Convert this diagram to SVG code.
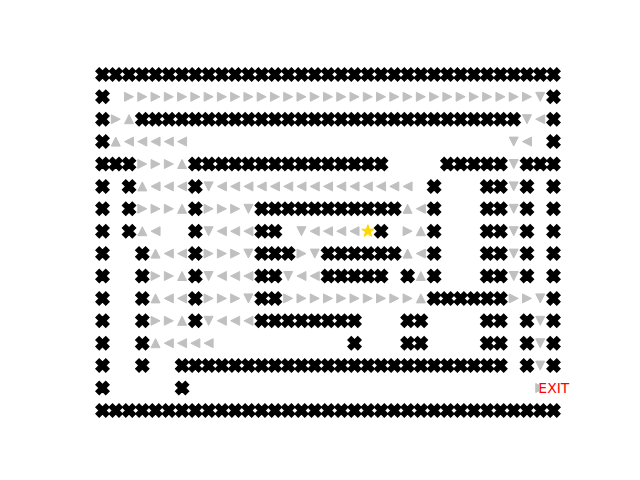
<svg xmlns="http://www.w3.org/2000/svg" width="640" height="480" viewBox="0 0 640 480">
<style>
.wall{fill:#000;stroke:#000;stroke-width:1.4}
.tri{fill:#c0c0c0;stroke:#c0c0c0;stroke-width:1}
.star{fill:#ffd700;stroke:#ffd700;stroke-width:1}
.exit{font-family:"DejaVu Sans",sans-serif;font-size:13.9px;fill:#ff0000}
</style>
<defs>
<path id="w" class="wall" d="M-3.25,-6.5L0,-3.25L3.25,-6.5L6.5,-3.25L3.25,0L6.5,3.25L3.25,6.5L0,3.25L-3.25,6.5L-6.5,3.25L-3.25,0L-6.5,-3.25Z"/>
<path id="r" class="tri" d="M4.5,0L-4.5,-4.5L-4.5,4.5Z"/>
<path id="l" class="tri" d="M-4.5,0L4.5,-4.5L4.5,4.5Z"/>
<path id="u" class="tri" d="M0,-4.5L-4.5,4.5L4.5,4.5Z"/>
<path id="d" class="tri" d="M0,4.5L-4.5,-4.5L4.5,-4.5Z"/>
<g id="full">
<use href="#w" x="102.5"/><use href="#w" x="115.76"/><use href="#w" x="129.03"/><use href="#w" x="142.29"/><use href="#w" x="155.56"/><use href="#w" x="168.82"/><use href="#w" x="182.09"/><use href="#w" x="195.35"/><use href="#w" x="208.62"/><use href="#w" x="221.88"/><use href="#w" x="235.15"/><use href="#w" x="248.41"/><use href="#w" x="261.68"/><use href="#w" x="274.94"/><use href="#w" x="288.21"/><use href="#w" x="301.47"/><use href="#w" x="314.74"/><use href="#w" x="328"/><use href="#w" x="341.26"/><use href="#w" x="354.53"/><use href="#w" x="367.79"/><use href="#w" x="381.06"/><use href="#w" x="394.32"/><use href="#w" x="407.59"/><use href="#w" x="420.85"/><use href="#w" x="434.12"/><use href="#w" x="447.38"/><use href="#w" x="460.65"/><use href="#w" x="473.91"/><use href="#w" x="487.18"/><use href="#w" x="500.44"/><use href="#w" x="513.71"/><use href="#w" x="526.97"/><use href="#w" x="540.24"/><use href="#w" x="553.5"/>
</g>
<g id="rside">
<use href="#w" x="434.12"/><use href="#w" x="487.18"/><use href="#w" x="500.44"/><use href="#d" x="513.71"/><use href="#w" x="526.97"/><use href="#w" x="553.5"/>
</g>
</defs>
<rect width="640" height="480" fill="#fff"/>
<g id="maze">
<use href="#full" y="74.4"/>
<use href="#full" y="410.4"/>
<g id="row1" transform="translate(0,96.8)">
<use href="#w" x="102.5"/>
<use href="#r" x="129.03"/><use href="#r" x="142.29"/><use href="#r" x="155.56"/><use href="#r" x="168.82"/><use href="#r" x="182.09"/><use href="#r" x="195.35"/><use href="#r" x="208.62"/><use href="#r" x="221.88"/><use href="#r" x="235.15"/><use href="#r" x="248.41"/><use href="#r" x="261.68"/><use href="#r" x="274.94"/><use href="#r" x="288.21"/><use href="#r" x="301.47"/><use href="#r" x="314.74"/><use href="#r" x="328"/><use href="#r" x="341.26"/><use href="#r" x="354.53"/><use href="#r" x="367.79"/><use href="#r" x="381.06"/><use href="#r" x="394.32"/><use href="#r" x="407.59"/><use href="#r" x="420.85"/><use href="#r" x="434.12"/><use href="#r" x="447.38"/><use href="#r" x="460.65"/><use href="#r" x="473.91"/><use href="#r" x="487.18"/><use href="#r" x="500.44"/><use href="#r" x="513.71"/><use href="#r" x="526.97"/>
<use href="#d" x="540.24"/><use href="#w" x="553.5"/>
</g>
<g id="row2" transform="translate(0,119.2)">
<use href="#w" x="102.5"/><use href="#r" x="115.76"/><use href="#u" x="129.03"/>
<use href="#w" x="142.29"/><use href="#w" x="155.56"/><use href="#w" x="168.82"/><use href="#w" x="182.09"/><use href="#w" x="195.35"/><use href="#w" x="208.62"/><use href="#w" x="221.88"/><use href="#w" x="235.15"/><use href="#w" x="248.41"/><use href="#w" x="261.68"/><use href="#w" x="274.94"/><use href="#w" x="288.21"/><use href="#w" x="301.47"/><use href="#w" x="314.74"/><use href="#w" x="328"/><use href="#w" x="341.26"/><use href="#w" x="354.53"/><use href="#w" x="367.79"/><use href="#w" x="381.06"/><use href="#w" x="394.32"/><use href="#w" x="407.59"/><use href="#w" x="420.85"/><use href="#w" x="434.12"/><use href="#w" x="447.38"/><use href="#w" x="460.65"/><use href="#w" x="473.91"/><use href="#w" x="487.18"/><use href="#w" x="500.44"/><use href="#w" x="513.71"/>
<use href="#d" x="526.97"/><use href="#l" x="540.24"/><use href="#w" x="553.5"/>
</g>
<g id="row3" transform="translate(0,141.6)">
<use href="#w" x="102.5"/><use href="#u" x="115.76"/>
<use href="#l" x="129.03"/><use href="#l" x="142.29"/><use href="#l" x="155.56"/><use href="#l" x="168.82"/><use href="#l" x="182.09"/>
<use href="#d" x="513.71"/><use href="#l" x="526.97"/><use href="#w" x="553.5"/>
</g>
<g id="row4" transform="translate(0,164)">
<use href="#w" x="102.5"/><use href="#w" x="115.76"/><use href="#w" x="129.03"/>
<use href="#r" x="142.29"/><use href="#r" x="155.56"/><use href="#r" x="168.82"/><use href="#u" x="182.09"/>
<use href="#w" x="195.35"/><use href="#w" x="208.62"/><use href="#w" x="221.88"/><use href="#w" x="235.15"/><use href="#w" x="248.41"/><use href="#w" x="261.68"/><use href="#w" x="274.94"/><use href="#w" x="288.21"/><use href="#w" x="301.47"/><use href="#w" x="314.74"/><use href="#w" x="328"/><use href="#w" x="341.26"/><use href="#w" x="354.53"/><use href="#w" x="367.79"/><use href="#w" x="381.06"/>
<use href="#w" x="447.38"/><use href="#w" x="460.65"/><use href="#w" x="473.91"/><use href="#w" x="487.18"/><use href="#w" x="500.44"/>
<use href="#d" x="513.71"/><use href="#w" x="526.97"/><use href="#w" x="540.24"/><use href="#w" x="553.5"/>
</g>
<g id="row5" transform="translate(0,186.4)">
<use href="#w" x="102.5"/><use href="#w" x="129.03"/><use href="#u" x="142.29"/>
<use href="#l" x="155.56"/><use href="#l" x="168.82"/><use href="#l" x="182.09"/>
<use href="#w" x="195.35"/><use href="#d" x="208.62"/>
<use href="#l" x="221.88"/><use href="#l" x="235.15"/><use href="#l" x="248.41"/><use href="#l" x="261.68"/><use href="#l" x="274.94"/><use href="#l" x="288.21"/><use href="#l" x="301.47"/><use href="#l" x="314.74"/><use href="#l" x="328"/><use href="#l" x="341.26"/><use href="#l" x="354.53"/><use href="#l" x="367.79"/><use href="#l" x="381.06"/><use href="#l" x="394.32"/><use href="#l" x="407.59"/>
<use href="#rside"/>
</g>
<g id="row6" transform="translate(0,208.8)">
<use href="#w" x="102.5"/><use href="#w" x="129.03"/>
<use href="#r" x="142.29"/><use href="#r" x="155.56"/><use href="#r" x="168.82"/><use href="#u" x="182.09"/>
<use href="#w" x="195.35"/>
<use href="#r" x="208.62"/><use href="#r" x="221.88"/><use href="#r" x="235.15"/><use href="#d" x="248.41"/>
<use href="#w" x="261.68"/><use href="#w" x="274.94"/><use href="#w" x="288.21"/><use href="#w" x="301.47"/><use href="#w" x="314.74"/><use href="#w" x="328"/><use href="#w" x="341.26"/><use href="#w" x="354.53"/><use href="#w" x="367.79"/><use href="#w" x="381.06"/><use href="#w" x="394.32"/>
<use href="#u" x="407.59"/><use href="#l" x="420.85"/>
<use href="#rside"/>
</g>
<g id="row7" transform="translate(0,231.2)">
<use href="#w" x="102.5"/><use href="#w" x="129.03"/><use href="#u" x="142.29"/><use href="#l" x="155.56"/>
<use href="#w" x="195.35"/><use href="#d" x="208.62"/>
<use href="#l" x="221.88"/><use href="#l" x="235.15"/><use href="#l" x="248.41"/>
<use href="#w" x="261.68"/><use href="#w" x="274.94"/>
<use href="#d" x="301.47"/><use href="#l" x="314.74"/><use href="#l" x="328"/><use href="#l" x="341.26"/><use href="#l" x="354.53"/>
<use href="#w" x="381.06"/>
<use href="#r" x="407.59"/><use href="#u" x="420.85"/>
<use href="#rside"/>
</g>
<g id="row8" transform="translate(0,253.6)">
<use href="#w" x="102.5"/><use href="#w" x="142.29"/><use href="#u" x="155.56"/><use href="#l" x="168.82"/><use href="#l" x="182.09"/>
<use href="#w" x="195.35"/>
<use href="#r" x="208.62"/><use href="#r" x="221.88"/><use href="#r" x="235.15"/><use href="#d" x="248.41"/>
<use href="#w" x="261.68"/><use href="#w" x="274.94"/><use href="#w" x="288.21"/>
<use href="#r" x="301.47"/><use href="#d" x="314.74"/>
<use href="#w" x="328"/><use href="#w" x="341.26"/><use href="#w" x="354.53"/><use href="#w" x="367.79"/><use href="#w" x="381.06"/><use href="#w" x="394.32"/>
<use href="#u" x="407.59"/><use href="#l" x="420.85"/>
<use href="#rside"/>
</g>
<g id="row9" transform="translate(0,276)">
<use href="#w" x="102.5"/><use href="#w" x="142.29"/>
<use href="#r" x="155.56"/><use href="#r" x="168.82"/><use href="#u" x="182.09"/>
<use href="#w" x="195.35"/><use href="#d" x="208.62"/>
<use href="#l" x="221.88"/><use href="#l" x="235.15"/><use href="#l" x="248.41"/>
<use href="#w" x="261.68"/><use href="#w" x="274.94"/>
<use href="#d" x="288.21"/><use href="#l" x="301.47"/><use href="#l" x="314.74"/>
<use href="#w" x="328"/><use href="#w" x="341.26"/><use href="#w" x="354.53"/><use href="#w" x="367.79"/><use href="#w" x="381.06"/>
<use href="#w" x="407.59"/><use href="#u" x="420.85"/>
<use href="#rside"/>
</g>
<g id="row10" transform="translate(0,298.4)">
<use href="#w" x="102.5"/><use href="#w" x="142.29"/><use href="#u" x="155.56"/><use href="#l" x="168.82"/><use href="#l" x="182.09"/>
<use href="#w" x="195.35"/>
<use href="#r" x="208.62"/><use href="#r" x="221.88"/><use href="#r" x="235.15"/><use href="#d" x="248.41"/>
<use href="#w" x="261.68"/><use href="#w" x="274.94"/>
<use href="#r" x="288.21"/><use href="#r" x="301.47"/><use href="#r" x="314.74"/><use href="#r" x="328"/><use href="#r" x="341.26"/><use href="#r" x="354.53"/><use href="#r" x="367.79"/><use href="#r" x="381.06"/><use href="#r" x="394.32"/><use href="#r" x="407.59"/>
<use href="#u" x="420.85"/>
<use href="#w" x="434.12"/><use href="#w" x="447.38"/><use href="#w" x="460.65"/><use href="#w" x="473.91"/><use href="#w" x="487.18"/><use href="#w" x="500.44"/>
<use href="#r" x="513.71"/><use href="#r" x="526.97"/><use href="#d" x="540.24"/><use href="#w" x="553.5"/>
</g>
<g id="row11" transform="translate(0,320.8)">
<use href="#w" x="102.5"/><use href="#w" x="142.29"/>
<use href="#r" x="155.56"/><use href="#r" x="168.82"/><use href="#u" x="182.09"/>
<use href="#w" x="195.35"/><use href="#d" x="208.62"/>
<use href="#l" x="221.88"/><use href="#l" x="235.15"/><use href="#l" x="248.41"/>
<use href="#w" x="261.68"/><use href="#w" x="274.94"/><use href="#w" x="288.21"/><use href="#w" x="301.47"/><use href="#w" x="314.74"/><use href="#w" x="328"/><use href="#w" x="341.26"/><use href="#w" x="354.53"/>
<use href="#w" x="407.59"/><use href="#w" x="420.85"/>
<use href="#w" x="487.18"/><use href="#w" x="500.44"/>
<use href="#w" x="526.97"/><use href="#d" x="540.24"/><use href="#w" x="553.5"/>
</g>
<g id="row12" transform="translate(0,343.2)">
<use href="#w" x="102.5"/><use href="#w" x="142.29"/><use href="#u" x="155.56"/>
<use href="#l" x="168.82"/><use href="#l" x="182.09"/><use href="#l" x="195.35"/><use href="#l" x="208.62"/>
<use href="#w" x="354.53"/>
<use href="#w" x="407.59"/><use href="#w" x="420.85"/>
<use href="#w" x="487.18"/><use href="#w" x="500.44"/>
<use href="#w" x="526.97"/><use href="#d" x="540.24"/><use href="#w" x="553.5"/>
</g>
<g id="row13" transform="translate(0,365.6)">
<use href="#w" x="102.5"/><use href="#w" x="142.29"/>
<use href="#w" x="182.09"/><use href="#w" x="195.35"/><use href="#w" x="208.62"/><use href="#w" x="221.88"/><use href="#w" x="235.15"/><use href="#w" x="248.41"/><use href="#w" x="261.68"/><use href="#w" x="274.94"/><use href="#w" x="288.21"/><use href="#w" x="301.47"/><use href="#w" x="314.74"/><use href="#w" x="328"/><use href="#w" x="341.26"/><use href="#w" x="354.53"/><use href="#w" x="367.79"/><use href="#w" x="381.06"/><use href="#w" x="394.32"/><use href="#w" x="407.59"/><use href="#w" x="420.85"/><use href="#w" x="434.12"/><use href="#w" x="447.38"/><use href="#w" x="460.65"/><use href="#w" x="473.91"/><use href="#w" x="487.18"/><use href="#w" x="500.44"/>
<use href="#w" x="526.97"/><use href="#d" x="540.24"/><use href="#w" x="553.5"/>
</g>
<g id="row14" transform="translate(0,388)">
<use href="#w" x="102.5"/><use href="#w" x="182.09"/>
<use href="#r" x="540.24"/>
</g>
</g>
<g id="start">
<path class="star" transform="translate(367.9,231.2)" d="M0,-6.5L1.46,-2.01L6.18,-2.01L2.36,0.77L3.82,5.26L0,2.48L-3.82,5.26L-2.36,0.77L-6.18,-2.01L-1.46,-2.01Z"/>
</g>
<g id="exit">
<rect x="539" y="380" width="31" height="16" fill="#fff"/>
<text class="exit" x="553.8" y="392.8" text-anchor="middle">EXIT</text>
</g>
</svg>
